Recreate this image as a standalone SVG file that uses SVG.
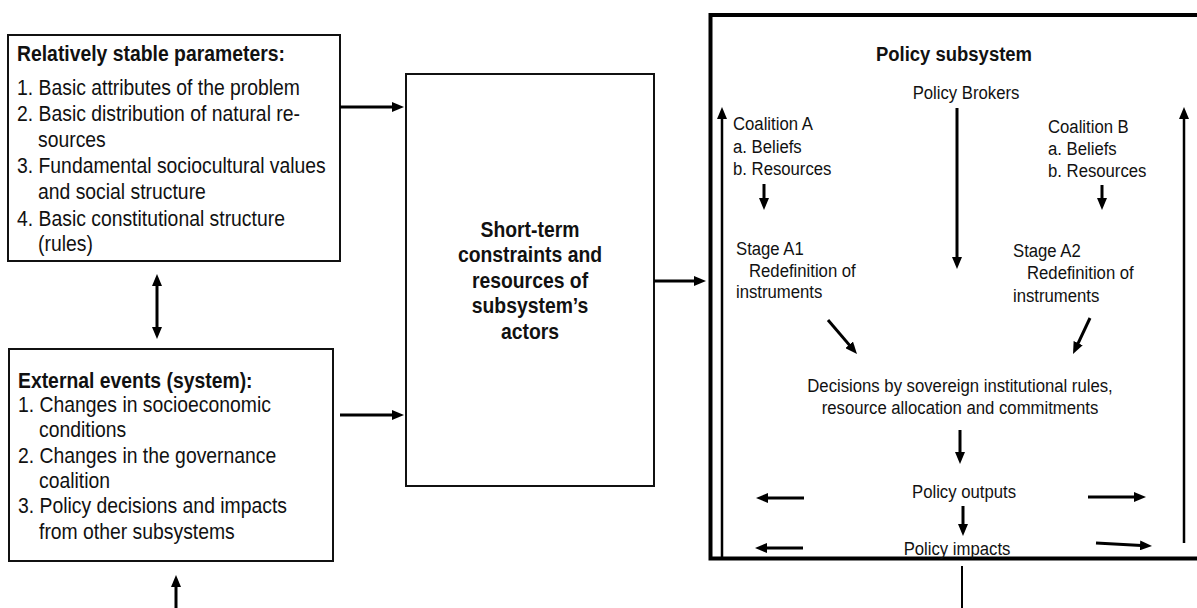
<svg xmlns="http://www.w3.org/2000/svg" width="1197" height="608" viewBox="0 0 1197 608">
<style>
text{font-family:"Liberation Sans",Arial,sans-serif;fill:#111}
.b22{font-size:22px;font-weight:bold}
.r22{font-size:22px}
.b21{font-size:21px;font-weight:bold}
.r19{font-size:19px}
.m{text-anchor:middle}
.box{fill:#fff;stroke:#111;stroke-width:2}
.sub{fill:none;stroke:#000;stroke-width:4}
.ar{fill:none;stroke:#000;stroke-width:3;marker-end:url(#ah)}
.ar2{fill:none;stroke:#000;stroke-width:2.5;marker-end:url(#ah)}
.ln{fill:none;stroke:#000;stroke-width:2}
</style>
<defs>
<marker id="ah" viewBox="0 0 12 10" markerWidth="12" markerHeight="10" markerUnits="userSpaceOnUse" refX="6" refY="5" orient="auto-start-reverse">
<path d="M0,0 L12,5 L0,10 Z" fill="#000"/>
</marker>
</defs>
<rect width="1197" height="608" fill="#fff"/>

<g id="stable-parameters">
<rect class="box" x="8" y="35" width="332" height="226"/>
<text class="b22" transform="translate(17 61) scale(.88 1)">Relatively stable parameters:</text>
<text class="r22" transform="translate(17 95) scale(.88 1)">1. Basic attributes of the problem</text>
<text class="r22" transform="translate(17 121) scale(.88 1)">2. Basic distribution of natural re-</text>
<text class="r22" transform="translate(38 147) scale(.88 1)">sources</text>
<text class="r22" transform="translate(17 173) scale(.88 1)">3. Fundamental sociocultural values</text>
<text class="r22" transform="translate(38 199) scale(.88 1)">and social structure</text>
<text class="r22" transform="translate(17 226) scale(.88 1)">4. Basic constitutional structure</text>
<text class="r22" transform="translate(38 251) scale(.88 1)">(rules)</text>
</g>

<g id="external-events">
<rect class="box" x="9" y="349" width="324" height="212"/>
<text class="b22" transform="translate(18 388) scale(.88 1)">External events (system):</text>
<text class="r22" transform="translate(18 412) scale(.88 1)">1. Changes in socioeconomic</text>
<text class="r22" transform="translate(39 437) scale(.88 1)">conditions</text>
<text class="r22" transform="translate(18 463) scale(.88 1)">2. Changes in the governance</text>
<text class="r22" transform="translate(39 488) scale(.88 1)">coalition</text>
<text class="r22" transform="translate(18 513) scale(.88 1)">3. Policy decisions and impacts</text>
<text class="r22" transform="translate(39 539) scale(.88 1)">from other subsystems</text>
</g>

<g id="short-term">
<rect class="box" x="406" y="74" width="248" height="412"/>
<text class="b22 m" transform="translate(530 237) scale(.88 1)">Short-term</text>
<text class="b22 m" transform="translate(530 262) scale(.88 1)">constraints and</text>
<text class="b22 m" transform="translate(530 288) scale(.88 1)">resources of</text>
<text class="b22 m" transform="translate(530 313) scale(.88 1)">subsystem’s</text>
<text class="b22 m" transform="translate(530 339) scale(.88 1)">actors</text>
</g>

<g id="policy-subsystem">
<path class="sub" d="M1205,15 H710.5 V558.5 H1205"/>
<text class="b21 m" transform="translate(954 61) scale(.88 1)">Policy subsystem</text>
</g>

<g id="policy-brokers">
<text class="r19 m" transform="translate(966 99) scale(.88 1)">Policy Brokers</text>
</g>

<g id="coalition-a">
<text class="r19" transform="translate(733 130) scale(.88 1)">Coalition A</text>
<text class="r19" transform="translate(733 153) scale(.88 1)">a. Beliefs</text>
<text class="r19" transform="translate(733 175) scale(.88 1)">b. Resources</text>
</g>

<g id="stage-a1">
<text class="r19" transform="translate(736 255) scale(.88 1)">Stage A1</text>
<text class="r19" transform="translate(749 277) scale(.88 1)">Redefinition of</text>
<text class="r19" transform="translate(736 298) scale(.88 1)">instruments</text>
</g>

<g id="coalition-b">
<text class="r19" transform="translate(1048 133) scale(.88 1)">Coalition B</text>
<text class="r19" transform="translate(1048 155) scale(.88 1)">a. Beliefs</text>
<text class="r19" transform="translate(1048 177) scale(.88 1)">b. Resources</text>
</g>

<g id="stage-a2">
<text class="r19" transform="translate(1013 257) scale(.88 1)">Stage A2</text>
<text class="r19" transform="translate(1027 279) scale(.88 1)">Redefinition of</text>
<text class="r19" transform="translate(1013 302) scale(.88 1)">instruments</text>
</g>

<g id="decisions">
<text class="r19 m" transform="translate(960 392) scale(.88 1)">Decisions by sovereign institutional rules,</text>
<text class="r19 m" transform="translate(960 414) scale(.88 1)">resource allocation and commitments</text>
</g>

<g id="policy-outputs">
<text class="r19 m" transform="translate(964 498) scale(.88 1)">Policy outputs</text>
</g>

<g id="policy-impacts">
<text class="r19 m" transform="translate(957 555) scale(.88 1)">Policy impacts</text>
</g>

<g id="connectors">
<line class="ar" x1="340" y1="107" x2="398" y2="107"/>
<line class="ar" x1="340" y1="415" x2="398" y2="415"/>
<line class="ar" x1="654" y1="281" x2="700" y2="281"/>
<line class="ar" x1="157" y1="280" x2="157" y2="333" marker-start="url(#ah)"/>
<line class="ar" x1="176" y1="608" x2="176" y2="581"/>
<line class="ar2" x1="722" y1="558" x2="722" y2="113"/>
<line class="ar2" x1="1184" y1="543" x2="1184" y2="113"/>
<line class="ar" x1="957" y1="108" x2="957" y2="263"/>
<line class="ar" x1="764" y1="184" x2="764" y2="204"/>
<line class="ar" x1="1102" y1="185" x2="1102" y2="204"/>
<line class="ar" x1="828" y1="320" x2="853.1" y2="349.4"/>
<line class="ar" x1="1090" y1="318" x2="1075.6" y2="348.6"/>
<line class="ar" x1="960" y1="430" x2="960" y2="458"/>
<line class="ar" x1="963" y1="506" x2="963" y2="530"/>
<line class="ar" x1="804" y1="498" x2="762" y2="498"/>
<line class="ar" x1="803" y1="548" x2="761" y2="548"/>
<line class="ar" x1="1088" y1="497" x2="1140" y2="497"/>
<line class="ar" x1="1096" y1="543" x2="1146" y2="545.7"/>
<line class="ln" x1="962" y1="566" x2="962" y2="608"/>
</g>
</svg>
